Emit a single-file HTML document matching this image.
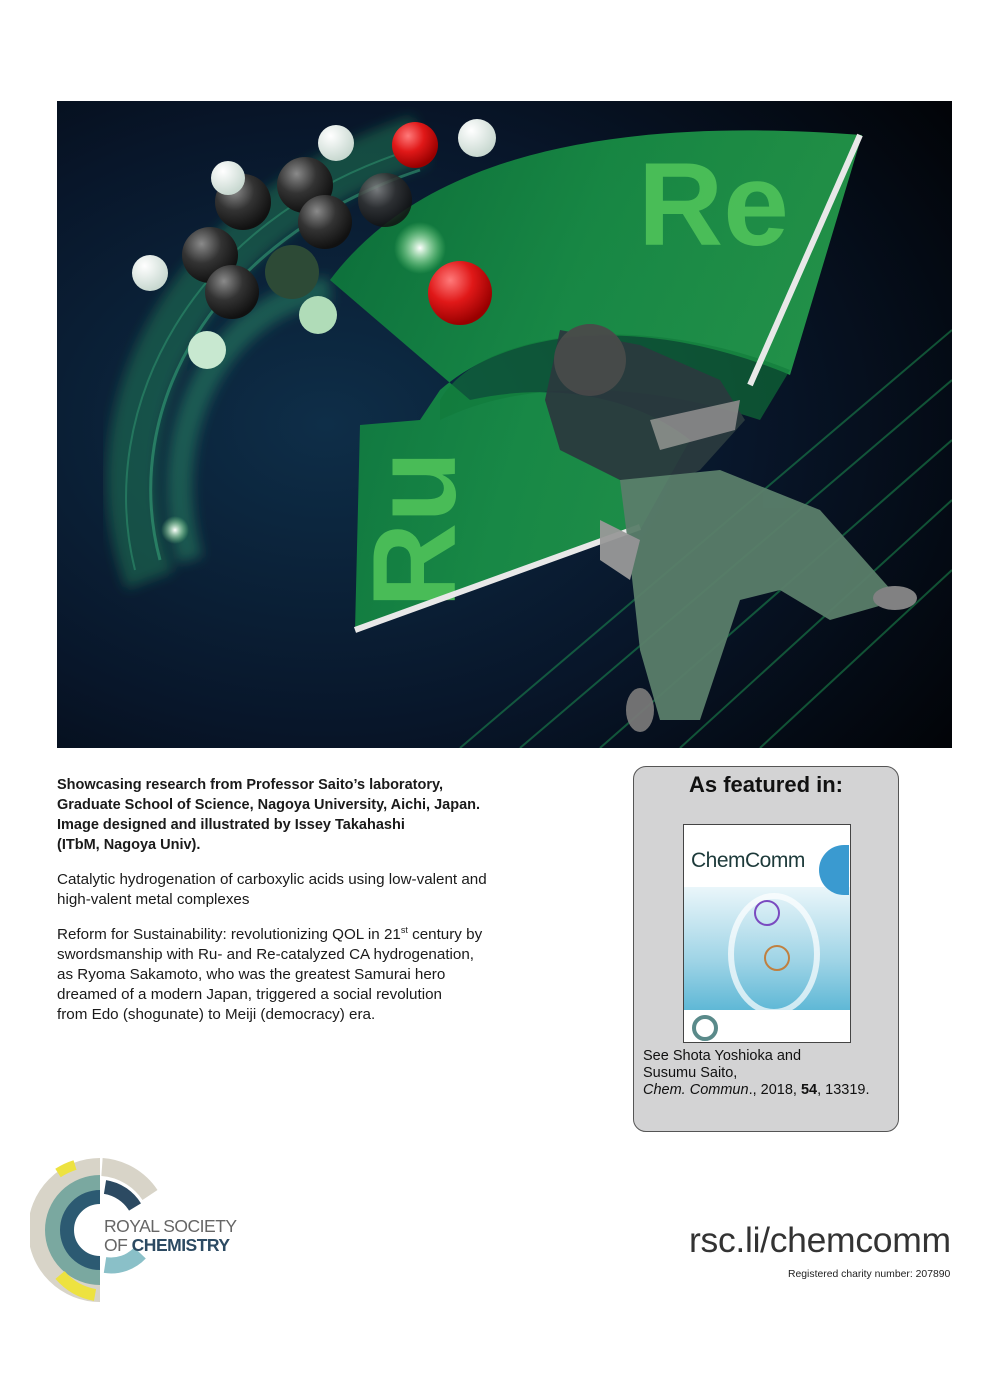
<!DOCTYPE html>
<html><head><meta charset="utf-8">
<style>
html,body{margin:0;padding:0;background:#fff;}
body{width:1000px;height:1400px;position:relative;overflow:hidden;font-family:"Liberation Sans",sans-serif;color:#1a1a1a;}
.abs{position:absolute;}
.t{font-size:15.2px;line-height:20px;white-space:nowrap;}
</style></head><body>
<svg class="abs" style="left:57px;top:101px" width="895" height="647" viewBox="57 101 895 647">
<defs>
<radialGradient id="bg" cx="0.3" cy="0.5" r="0.85"><stop offset="0" stop-color="#0e2e48"/><stop offset="0.55" stop-color="#08162a"/><stop offset="1" stop-color="#020408"/></radialGradient>
<linearGradient id="band" x1="0" y1="0" x2="1" y2="0.3"><stop offset="0" stop-color="#0c7a3a"/><stop offset="0.5" stop-color="#1a9a48"/><stop offset="1" stop-color="#28a850"/></linearGradient>
<radialGradient id="ball" cx="0.35" cy="0.3" r="0.7"><stop offset="0" stop-color="#8a8a8a"/><stop offset="0.5" stop-color="#333"/><stop offset="1" stop-color="#111"/></radialGradient>
<radialGradient id="red" cx="0.35" cy="0.3" r="0.7"><stop offset="0" stop-color="#ff7a7a"/><stop offset="0.5" stop-color="#e01818"/><stop offset="1" stop-color="#900"/></radialGradient>
<radialGradient id="wh" cx="0.35" cy="0.3" r="0.7"><stop offset="0" stop-color="#fff"/><stop offset="1" stop-color="#c8d8d0"/></radialGradient>
<radialGradient id="glow" cx="0.5" cy="0.5" r="0.5"><stop offset="0" stop-color="#fff" stop-opacity="1"/><stop offset="1" stop-color="#9f9" stop-opacity="0"/></radialGradient>
<filter id="blur"><feGaussianBlur stdDeviation="6"/></filter>
</defs>
<rect x="57" y="101" width="895" height="647" fill="url(#bg)"/>
<g filter="url(#blur)">
<path d="M150,580 C90,420 180,220 420,140" stroke="#1f8a5a" stroke-width="50" fill="none" opacity="0.45"/>
<path d="M190,560 C150,420 230,300 330,290" stroke="#2a9a6a" stroke-width="26" fill="none" opacity="0.45"/>
</g>
<path d="M160,560 C120,410 210,240 420,170" stroke="#3ab080" stroke-width="3" fill="none" opacity="0.5"/>
<path d="M135,570 C95,410 190,220 410,150" stroke="#3ab080" stroke-width="2" fill="none" opacity="0.4"/>
<g stroke="#1e9a55" stroke-width="2" opacity="0.5">
<line x1="520" y1="748" x2="952" y2="380"/><line x1="600" y1="748" x2="952" y2="440"/><line x1="680" y1="748" x2="952" y2="500"/><line x1="460" y1="748" x2="952" y2="330"/><line x1="760" y1="748" x2="952" y2="570"/>
</g>
<path d="M330,280 C420,160 600,115 862,135 L790,375 C660,320 520,320 440,390 L420,420 L360,425 L355,630 L640,530 L690,440 C640,400 560,380 470,400 Z" fill="url(#band)" opacity="0.85"/>
<path d="M440,400 C480,330 640,310 790,370 L760,420 C640,380 520,380 440,420 Z" fill="#117a3a" opacity="0.6"/>
<text x="638" y="245" font-family="Liberation Sans" font-weight="bold" font-size="118" fill="#4fc35a" opacity="0.9">Re</text>
<text transform="translate(455,608) rotate(-90)" font-family="Liberation Sans" font-weight="bold" font-size="118" fill="#4fc35a" opacity="0.9">Ru</text>
<line x1="860" y1="135" x2="750" y2="385" stroke="#e8e8e8" stroke-width="6"/>
<path d="M355,630 L640,527" stroke="#e8e8e8" stroke-width="6"/>
<g opacity="0.95">
<path d="M560,330 L640,345 L720,380 L745,420 L700,470 L680,480 L620,480 L560,450 L545,400 Z" fill="#2a3a3e"/>
<circle cx="590" cy="360" r="36" fill="#4a4a4a"/>
<path d="M620,480 L720,470 L820,510 L900,600 L830,620 L780,590 L740,600 L700,720 L660,720 L640,650 L630,560 Z" fill="#5a7e6a"/>
<path d="M650,420 L740,400 L735,430 L660,450 Z" fill="#888"/>
<path d="M600,520 L640,540 L630,580 L600,560 Z" fill="#999"/>
<ellipse cx="895" cy="598" rx="22" ry="12" fill="#888"/>
<ellipse cx="640" cy="710" rx="14" ry="22" fill="#777"/>
</g>
<g>
<circle cx="243" cy="202" r="28" fill="url(#ball)"/>
<circle cx="305" cy="185" r="28" fill="url(#ball)"/>
<circle cx="210" cy="255" r="28" fill="url(#ball)"/>
<circle cx="232" cy="292" r="27" fill="url(#ball)"/>
<circle cx="292" cy="272" r="27" fill="#2d4a36"/>
<circle cx="325" cy="222" r="27" fill="url(#ball)"/>
<circle cx="385" cy="200" r="27" fill="url(#ball)" opacity="0.85"/>
<circle cx="228" cy="178" r="17" fill="url(#wh)"/>
<circle cx="336" cy="143" r="18" fill="url(#wh)"/>
<circle cx="150" cy="273" r="18" fill="url(#wh)"/>
<circle cx="207" cy="350" r="19" fill="#c8e8d0"/>
<circle cx="318" cy="315" r="19" fill="#b0dcb8"/>
<circle cx="415" cy="145" r="23" fill="url(#red)"/>
<circle cx="477" cy="138" r="19" fill="url(#wh)"/>
<circle cx="460" cy="293" r="32" fill="url(#red)"/>
<circle cx="420" cy="248" r="26" fill="url(#glow)"/>
</g>
<circle cx="175" cy="530" r="14" fill="url(#glow)"/>
</svg>

<div class="abs t" style="left:57px;top:775px;font-weight:bold;font-size:14.5px;">Showcasing research from Professor Saito’s laboratory,<br>Graduate School of Science, Nagoya University, Aichi, Japan.<br>Image designed and illustrated by Issey Takahashi<br>(ITbM, Nagoya Univ).</div>
<div class="abs t" style="left:57px;top:870px;">Catalytic hydrogenation of carboxylic acids using low-valent and<br>high-valent metal complexes</div>
<div class="abs t" style="left:57px;top:925px;">Reform for Sustainability: revolutionizing QOL in 21<sup style="font-size:9px;line-height:0">st</sup> century by<br>swordsmanship with Ru- and Re-catalyzed CA hydrogenation,<br>as Ryoma Sakamoto, who was the greatest Samurai hero<br>dreamed of a modern Japan, triggered a social revolution<br>from Edo (shogunate) to Meiji (democracy) era.</div>

<div class="abs" style="left:633px;top:766px;width:264px;height:364px;background:#d3d3d4;border:1.5px solid #555;border-radius:13px;">
<div style="position:absolute;left:0;width:264px;top:5px;text-align:center;font-size:22px;font-weight:bold;color:#111;">As featured in:</div>
<div style="position:absolute;left:49px;top:57px;width:166px;height:217px;background:#fff;border:1px solid #444;overflow:hidden;">
<div style="position:absolute;left:7px;top:24px;font-size:21px;color:#1d3a3a;letter-spacing:-0.5px;">ChemComm</div>
<div style="position:absolute;left:0;top:62px;width:166px;height:123px;background:linear-gradient(#eaf6fa,#9fd4e6 60%,#5fb8d6);"></div>
<div style="position:absolute;left:44px;top:68px;width:80px;height:110px;border-radius:50%;border:6px solid rgba(255,255,255,0.7);"></div>
<div style="position:absolute;left:70px;top:75px;width:22px;height:22px;border-radius:50%;border:2px solid #7a4ac0;"></div>
<div style="position:absolute;left:80px;top:120px;width:22px;height:22px;border-radius:50%;border:2px solid #c08040;"></div>
<div style="position:absolute;left:135px;top:20px;width:30px;height:50px;background:#3a9ad0;border-radius:30px 0 0 30px;"></div>
<div style="position:absolute;left:8px;top:190px;width:18px;height:18px;border-radius:50%;border:4px solid #5a8a8a;"></div>
</div>
<div style="position:absolute;left:9px;top:281px;font-size:14.5px;line-height:17px;color:#111;">See Shota Yoshioka and<br>Susumu Saito,<br><i>Chem. Commun</i>., 2018, <b>54</b>, 13319.</div>
</div>

<svg class="abs" style="left:30px;top:1155px" width="140" height="150" viewBox="0 0 140 150">
<g fill="none">
<path d="M70,12 A63,63 0 0 0 70,138" stroke="#d8d4c8" stroke-width="18"/>
<path d="M70,28 A47,47 0 0 0 70,122" stroke="#7aa8a0" stroke-width="16"/>
<path d="M70,42 A33,33 0 0 0 70,108" stroke="#2c5a72" stroke-width="14"/>
<path d="M72,12 A63,63 0 0 1 120,40" stroke="#d8d4c8" stroke-width="18"/>
<path d="M75,32 A43,43 0 0 1 105,52" stroke="#2c4a62" stroke-width="14"/>
<path d="M75,110 A40,40 0 0 0 110,98" stroke="#8ac0c8" stroke-width="16"/>
<path d="M30,120 A60,60 0 0 0 65,140" stroke="#ede240" stroke-width="12"/>
<path d="M28,18 A70,70 0 0 1 45,10" stroke="#ede240" stroke-width="10"/>
</g>
</svg>
<div class="abs" style="left:104px;top:1217px;font-size:17.5px;line-height:19px;color:#666;letter-spacing:-0.5px;">ROYAL SOCIETY<br>OF <b style="color:#2c4a62">CHEMISTRY</b></div>

<div class="abs" style="left:689px;top:1220px;font-size:35.5px;color:#333;letter-spacing:-0.3px;">rsc.li/chemcomm</div>
<div class="abs" style="left:788px;top:1269px;font-size:10.4px;color:#222;">Registered charity number: 207890</div>
</body></html>
